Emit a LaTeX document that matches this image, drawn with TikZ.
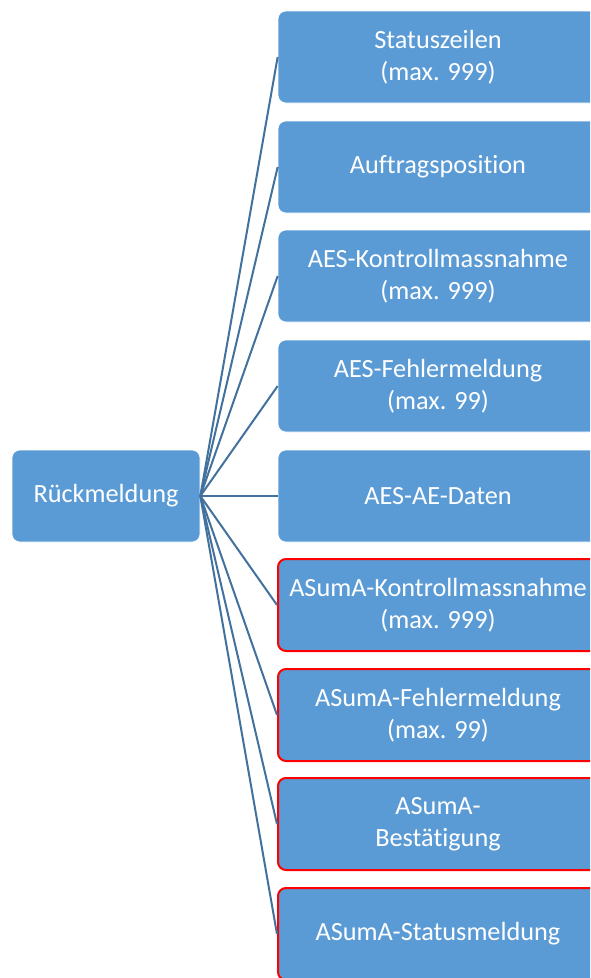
\documentclass[tikz,border=0pt]{standalone}
\usepackage{fontspec}
\setmainfont{Carlito}[Ligatures=NoCommon]
\definecolor{boxblue}{HTML}{5B9BD5}
\definecolor{linkblue}{HTML}{41719C}
\tikzset{
  item/.style={rectangle, rounded corners=6pt, fill=boxblue, draw=white, line width=0.5pt,
    text=white, align=center, minimum width=240pt, minimum height=69pt, inner sep=0pt,
    font=\fontsize{19.7}{24}\selectfont},
  asuma/.style={item, draw=red, line width=1.5pt},
  link/.style={draw=linkblue, line width=1.5pt},
}

\begin{document}
\begin{tikzpicture}[x=0.75pt, y=-0.75pt]
		%%%%% START %%%%%
		\useasboundingbox (0, 0) rectangle (590, 978);
		\clip (0, 0) rectangle (590, 978);
		
		\node[item, minimum width=141pt] (rueck) at (106, 496) {Rückmeldung};
		
		\node[item] (status) at (438, 57) {Statuszeilen\\(max. 999)};
		\node[item] (auftrag) at (438, 167) {Auftragsposition};
		\node[item] (aeskontr) at (438, 276) {AES-Kontrollmassnahme\\(max. 999)};
		\node[item] (aesfehler) at (438, 386) {AES-Fehlermeldung\\(max. 99)};
		\node[item] (aesdaten) at (438, 496) {AES-AE-Daten};
		
		% ASumA-Teil, rot umrandet
		\node[asuma] (asumakontr) at (438, 605) {ASumA-Kontrollmassnahme\\(max. 999)};
		\node[asuma] (asumafehler) at (438, 715) {ASumA-Fehlermeldung\\(max. 99)};
		\node[asuma] (asumabest) at (438, 824) {ASumA-\\Bestätigung};
		\node[asuma] (asumastatus) at (438, 934) {ASumA-Statusmeldung};
		
		\draw[link] (rueck.east) -- (status.west);
		\draw[link] (rueck.east) -- (auftrag.west);
		\draw[link] (rueck.east) -- (aeskontr.west);
		\draw[link] (rueck.east) -- (aesfehler.west);
		\draw[link] (rueck.east) -- (aesdaten.west);
		\draw[link] (rueck.east) -- (asumakontr.west);
		\draw[link] (rueck.east) -- (asumafehler.west);
		\draw[link] (rueck.east) -- (asumabest.west);
		\draw[link] (rueck.east) -- (asumastatus.west);
		
		%%%%% END %%%%%
	\end{tikzpicture}
\end{document}
